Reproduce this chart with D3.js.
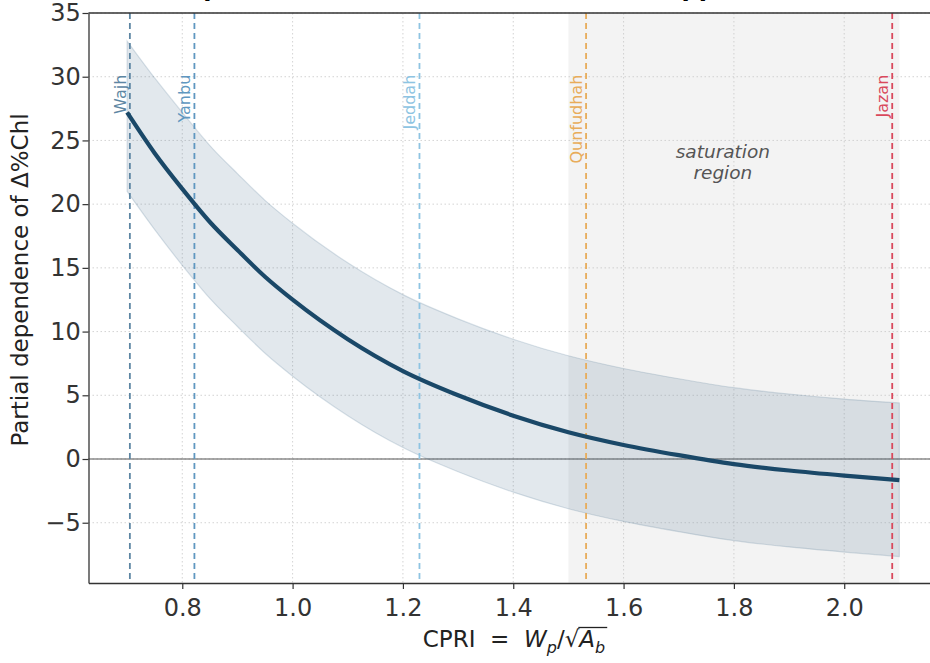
<!DOCTYPE html>
<html>
<head>
<meta charset="utf-8">
<script src="https://cdn.jsdelivr.net/npm/d3@7"></script>
<style>
  body { margin: 0; background: #fff; }
  text { font-family: "DejaVu Sans", sans-serif; }
</style>
</head>
<body>
<script>
let width = 930;
let height = 663;

// partial dependence curve
let cpri  = [0.70, 0.75, 0.80, 0.85, 0.90, 0.95, 1.00, 1.10, 1.20, 1.30, 1.40, 1.50, 1.60, 1.70, 1.80, 1.90, 2.00, 2.10];
let pd    = [27.2, 24.0, 21.2, 18.6, 16.4, 14.3, 12.5, 9.4, 6.9, 5.0, 3.4, 2.1, 1.1, 0.3, -0.4, -0.9, -1.3, -1.65];
let upper = [32.8, 29.9, 27.2, 24.6, 22.4, 20.3, 18.5, 15.4, 12.9, 11.0, 9.4, 8.1, 7.1, 6.3, 5.6, 5.1, 4.7, 4.4];
let lower = [21.0, 18.0, 15.2, 12.6, 10.4, 8.3, 6.5, 3.4, 0.9, -1.0, -2.6, -3.9, -4.9, -5.7, -6.4, -6.9, -7.3, -7.65];

// sites on the CPRI axis
let sites      = ["Wajh", "Yanbu", "Jeddah", "Qunfudhah", "Jazan"];
let siteCpri   = [0.705, 0.822, 1.23, 1.532, 2.087];
let siteColors = ["#5d86a3", "#5f97c0", "#8ec4e2", "#e8ac5a", "#d9485c"];

let xTicks = [0.8, 1.0, 1.2, 1.4, 1.6, 1.8, 2.0];
let yTicks = [-5, 0, 5, 10, 15, 20, 25, 30, 35];
let saturation = [1.5, 2.1];

let svg = d3.select("body")
            .append("svg")
            .attr("width", width)
            .attr("height", height)

let x = d3.scaleLinear().domain([0.63, 2.17]).range([88.5, 938]);
let y = d3.scaleLinear().domain([-9.73, 35]).range([583, 13]);

// title (mostly above the page, as in the reference)
svg.append("text")
   .attr("x", 500).attr("y", -4)
   .attr("text-anchor", "middle")
   .attr("font-size", 24)
   .attr("font-weight", "bold")
   .text("Partial dependence of Δ%Chl on CPRI: GAM approach (all sites)")

// saturation region
svg.append("rect")
   .attr("x", x(saturation[0]))
   .attr("y", y(35))
   .attr("width", x(saturation[1]) - x(saturation[0]))
   .attr("height", y(-9.73) - y(35))
   .attr("fill", "#f3f3f3")

// grid
svg.append("g").selectAll("line").data(xTicks).enter().append("line")
   .attr("x1", d => x(d)).attr("x2", d => x(d))
   .attr("y1", y(35)).attr("y2", y(-9.73))
   .attr("stroke", "#c8c8c8").attr("stroke-width", 0.8)
   .attr("stroke-dasharray", "1.5,2.5")
svg.append("g").selectAll("line").data(yTicks).enter().append("line")
   .attr("x1", x(0.63)).attr("x2", width)
   .attr("y1", d => y(d)).attr("y2", d => y(d))
   .attr("stroke", "#c8c8c8").attr("stroke-width", 0.8)
   .attr("stroke-dasharray", "1.5,2.5")

// zero line
svg.append("line")
   .attr("x1", x(0.63)).attr("x2", width)
   .attr("y1", y(0)).attr("y2", y(0))
   .attr("stroke", "#555").attr("stroke-width", 1.2)

let rows = cpri.map((c, i) => ({ c: c, m: pd[i], hi: upper[i], lo: lower[i] }))

// confidence band
let band = d3.area()
             .x(d => x(d.c))
             .y0(d => y(d.lo))
             .y1(d => y(d.hi))
             .curve(d3.curveMonotoneX)
svg.append("path")
   .datum(rows)
   .attr("d", band)
   .attr("fill", "#3a6285")
   .attr("fill-opacity", 0.15)
   .attr("stroke", "#3a6285")
   .attr("stroke-opacity", 0.18)
   .attr("stroke-width", 1.2)

// site lines
let siteG = svg.append("g").selectAll("g").data(sites).enter().append("g")
siteG.append("line")
   .attr("x1", (d, i) => x(siteCpri[i])).attr("x2", (d, i) => x(siteCpri[i]))
   .attr("y1", y(35)).attr("y2", y(-9.73))
   .attr("stroke", (d, i) => siteColors[i])
   .attr("stroke-width", 1.8)
   .attr("stroke-dasharray", "6,4")
siteG.append("text")
   .attr("transform", (d, i) => "translate(" + (x(siteCpri[i]) - 4) + "," + (y(30) - 2) + ") rotate(-90)")
   .attr("text-anchor", "end")
   .attr("font-size", 16)
   .attr("fill", (d, i) => siteColors[i])
   .text(d => d)

// main curve
let line = d3.line()
             .x(d => x(d.c))
             .y(d => y(d.m))
             .curve(d3.curveMonotoneX)
svg.append("path")
   .datum(rows)
   .attr("d", line)
   .attr("fill", "none")
   .attr("stroke", "#1a4868")
   .attr("stroke-width", 4.2)

// saturation label
let sat = svg.append("text")
   .attr("x", x(1.78)).attr("y", 158)
   .attr("text-anchor", "middle")
   .attr("font-size", 18.5)
   .attr("font-style", "italic")
   .attr("fill", "#555")
sat.append("tspan").attr("x", x(1.78)).text("saturation")
sat.append("tspan").attr("x", x(1.78)).attr("dy", 21).text("region")

// axes
let xAxis = svg.append("g")
   .attr("transform", "translate(0," + y(-9.73) + ")")
   .call(d3.axisBottom(x).tickValues(xTicks).tickFormat(d3.format(".1f")).tickSize(6).tickSizeOuter(0))
let yAxis = svg.append("g")
   .attr("transform", "translate(" + x(0.63) + ",0)")
   .call(d3.axisLeft(y).tickValues(yTicks).tickFormat(d => d < 0 ? "\u2212" + Math.abs(d) : d).tickSize(6).tickSizeOuter(0))
svg.selectAll(".domain").attr("stroke", "#333").attr("stroke-width", 1.3)
svg.selectAll(".tick line").attr("stroke", "#333").attr("stroke-width", 1.2)
svg.selectAll(".tick text").attr("font-family", "DejaVu Sans").attr("font-size", 24).attr("fill", "#333")
xAxis.selectAll(".tick text").attr("dy", "1.0em")
yAxis.selectAll(".tick text").attr("dx", "0.05em")

// top spine
svg.append("line")
   .attr("x1", x(0.63)).attr("x2", width)
   .attr("y1", y(35)).attr("y2", y(35))
   .attr("stroke", "#333").attr("stroke-width", 1.3)

// y label
svg.append("text")
   .attr("transform", "translate(28," + 280 + ") rotate(-90)")
   .attr("text-anchor", "middle")
   .attr("font-size", 23)
   .attr("fill", "#222")
   .text("Partial dependence of Δ%Chl")

// x label: CPRI = W_p / sqrt(A_b)
let pieces = [
  { t: "CPRI  =  ", it: false, sub: false },
  { t: "W", it: true, sub: false },
  { t: "p", it: true, sub: true },
  { t: "/", it: false, sub: false },
  { t: "\u221A", it: false, sub: false },
  { t: "A", it: true, sub: false, bar: true },
  { t: "b", it: true, sub: true, bar: true }
];
let lab = svg.append("g")
let cx = 0, barStart = null, barEnd = 0
pieces.forEach(p => {
  let t = lab.append("text")
     .attr("x", cx)
     .attr("y", p.sub ? 6 : 0)
     .attr("font-size", p.sub ? 16 : 23)
     .attr("font-style", p.it ? "italic" : "normal")
     .attr("fill", "#222")
     .attr("xml:space", "preserve")
     .style("white-space", "pre")
     .text(p.t)
  let w = t.node().getComputedTextLength()
  if (p.bar && barStart === null) barStart = cx
  cx += w
  if (p.bar) barEnd = cx + 2
})
lab.append("line")
   .attr("x1", barStart - 1).attr("x2", barEnd)
   .attr("y1", -19.5).attr("y2", -19.5)
   .attr("stroke", "#222").attr("stroke-width", 1.3)
lab.attr("transform", "translate(" + (514 - cx / 2) + ",647)")
</script>
</body>
</html>
